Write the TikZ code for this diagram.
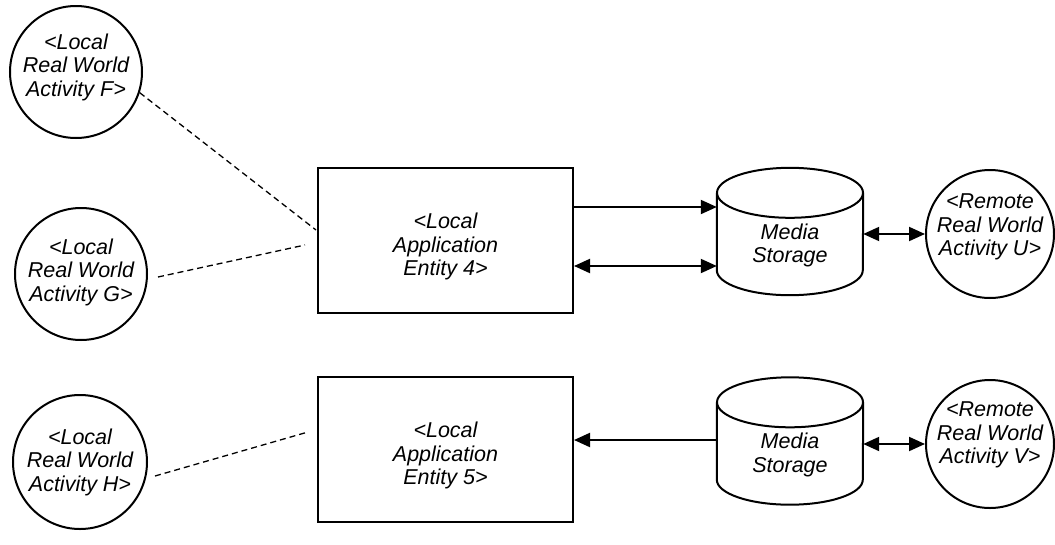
\documentclass[tikz,border=0pt]{standalone}
\usepackage{fontspec}
\setmainfont{Liberation Sans}
\usetikzlibrary{arrows.meta,calc}
\begin{document}
\begin{tikzpicture}[x=1pt,y=-1pt,
  >={Triangle[length=16pt,width=14pt]},
  lbl/.style={align=center,font=\fontsize{21.5}{23.5}\selectfont\itshape,inner sep=0pt},
  activity/.style={circle,draw,line width=2pt,inner sep=0pt},
  entity/.style={draw,line width=2pt,minimum width=255pt,minimum height=145pt,inner sep=0pt},
  store/.style={minimum width=146pt,minimum height=127pt,inner sep=0pt},
  link/.style={line width=2pt},
  assoc/.style={line width=1.3pt,dash pattern=on 6pt off 4pt}]
\useasboundingbox (0,0) rectangle (1055,544);

% local real world activities
\node[activity,minimum size=132pt] (F) at (76,72) {};
\node[activity,minimum size=132pt] (G) at (81,274) {};
\node[activity,minimum size=134pt] (H) at (80,462) {};
\node[lbl] (Ft) at ($(F)+(0,-5)$) {<Local\\Real World\\Activity F>};
\node[lbl] (Gt) at ($(G)+(0,-2)$) {<Local\\Real World\\Activity G>};
\node[lbl] (Ht) at (H) {<Local\\Real World\\Activity H>};

% application entities
\node[entity] (E4) at (445.5,240.5) {};
\node[entity] (E5) at (445.5,449.5) {};
\node[lbl] (E4t) at ($(E4)+(0,6)$) {<Local\\Application\\Entity 4>};
\node[lbl] (E5t) at ($(E5)+(0,6)$) {<Local\\Application\\Entity 5>};

% media storage cylinders
\node[store] (S1) at (790,231.5) {};
\node[store] (S2) at (790,441) {};
\foreach \s in {S1,S2}{
  \draw[line width=2pt]
    ($(\s.north)+(0,25)$) ellipse [x radius=73, y radius=25];
  \draw[line width=2pt]
    ($(\s.north west)+(0,25)$) -- ($(\s.south west)+(0,-25)$)
    arc[start angle=180,end angle=0,x radius=73,y radius=25]
    -- ($(\s.north east)+(0,25)$);
  \node[lbl] (\s txt) at ($(\s.center)+(0,14)$) {Media\\Storage};
}

% remote real world activities
\node[activity,minimum size=128pt] (U) at (990,234) {};
\node[activity,minimum size=128pt] (V) at (990,444) {};
\node[lbl] (Ut) at ($(U)+(0,-7)$) {<Remote\\Real World\\Activity U>};
\node[lbl] (Vt) at ($(V)+(0,-9)$) {<Remote\\Real World\\Activity V>};

% associations
\coordinate (f4) at (316,230);
\coordinate (g0) at (158,277);
\coordinate (g4) at (305,245);
\coordinate (h0) at (155,476);
\coordinate (h5) at (308,432);
\draw[assoc] (F.-18) -- (f4);
\draw[assoc] (g0) -- (g4);
\draw[assoc] (h0) -- (h5);

% data flows
\coordinate (e4a) at ($(E4.east)+(0,-33.5)$);
\coordinate (e4b) at ($(E4.east)+(0,25.5)$);
\coordinate (s2a) at ($(S2.west)+(0,-1)$);
\draw[link,->] (e4a) -- (S1.west |- e4a);
\draw[link,<->] (e4b) -- (S1.west |- e4b);
\draw[link,<->] (S1.east |- U.west) -- (U.west);
\draw[link,->] (s2a) -- (E5.east |- s2a);
\draw[link,<->] (S2.east |- V.west) -- (V.west);
\end{tikzpicture}
\end{document}
